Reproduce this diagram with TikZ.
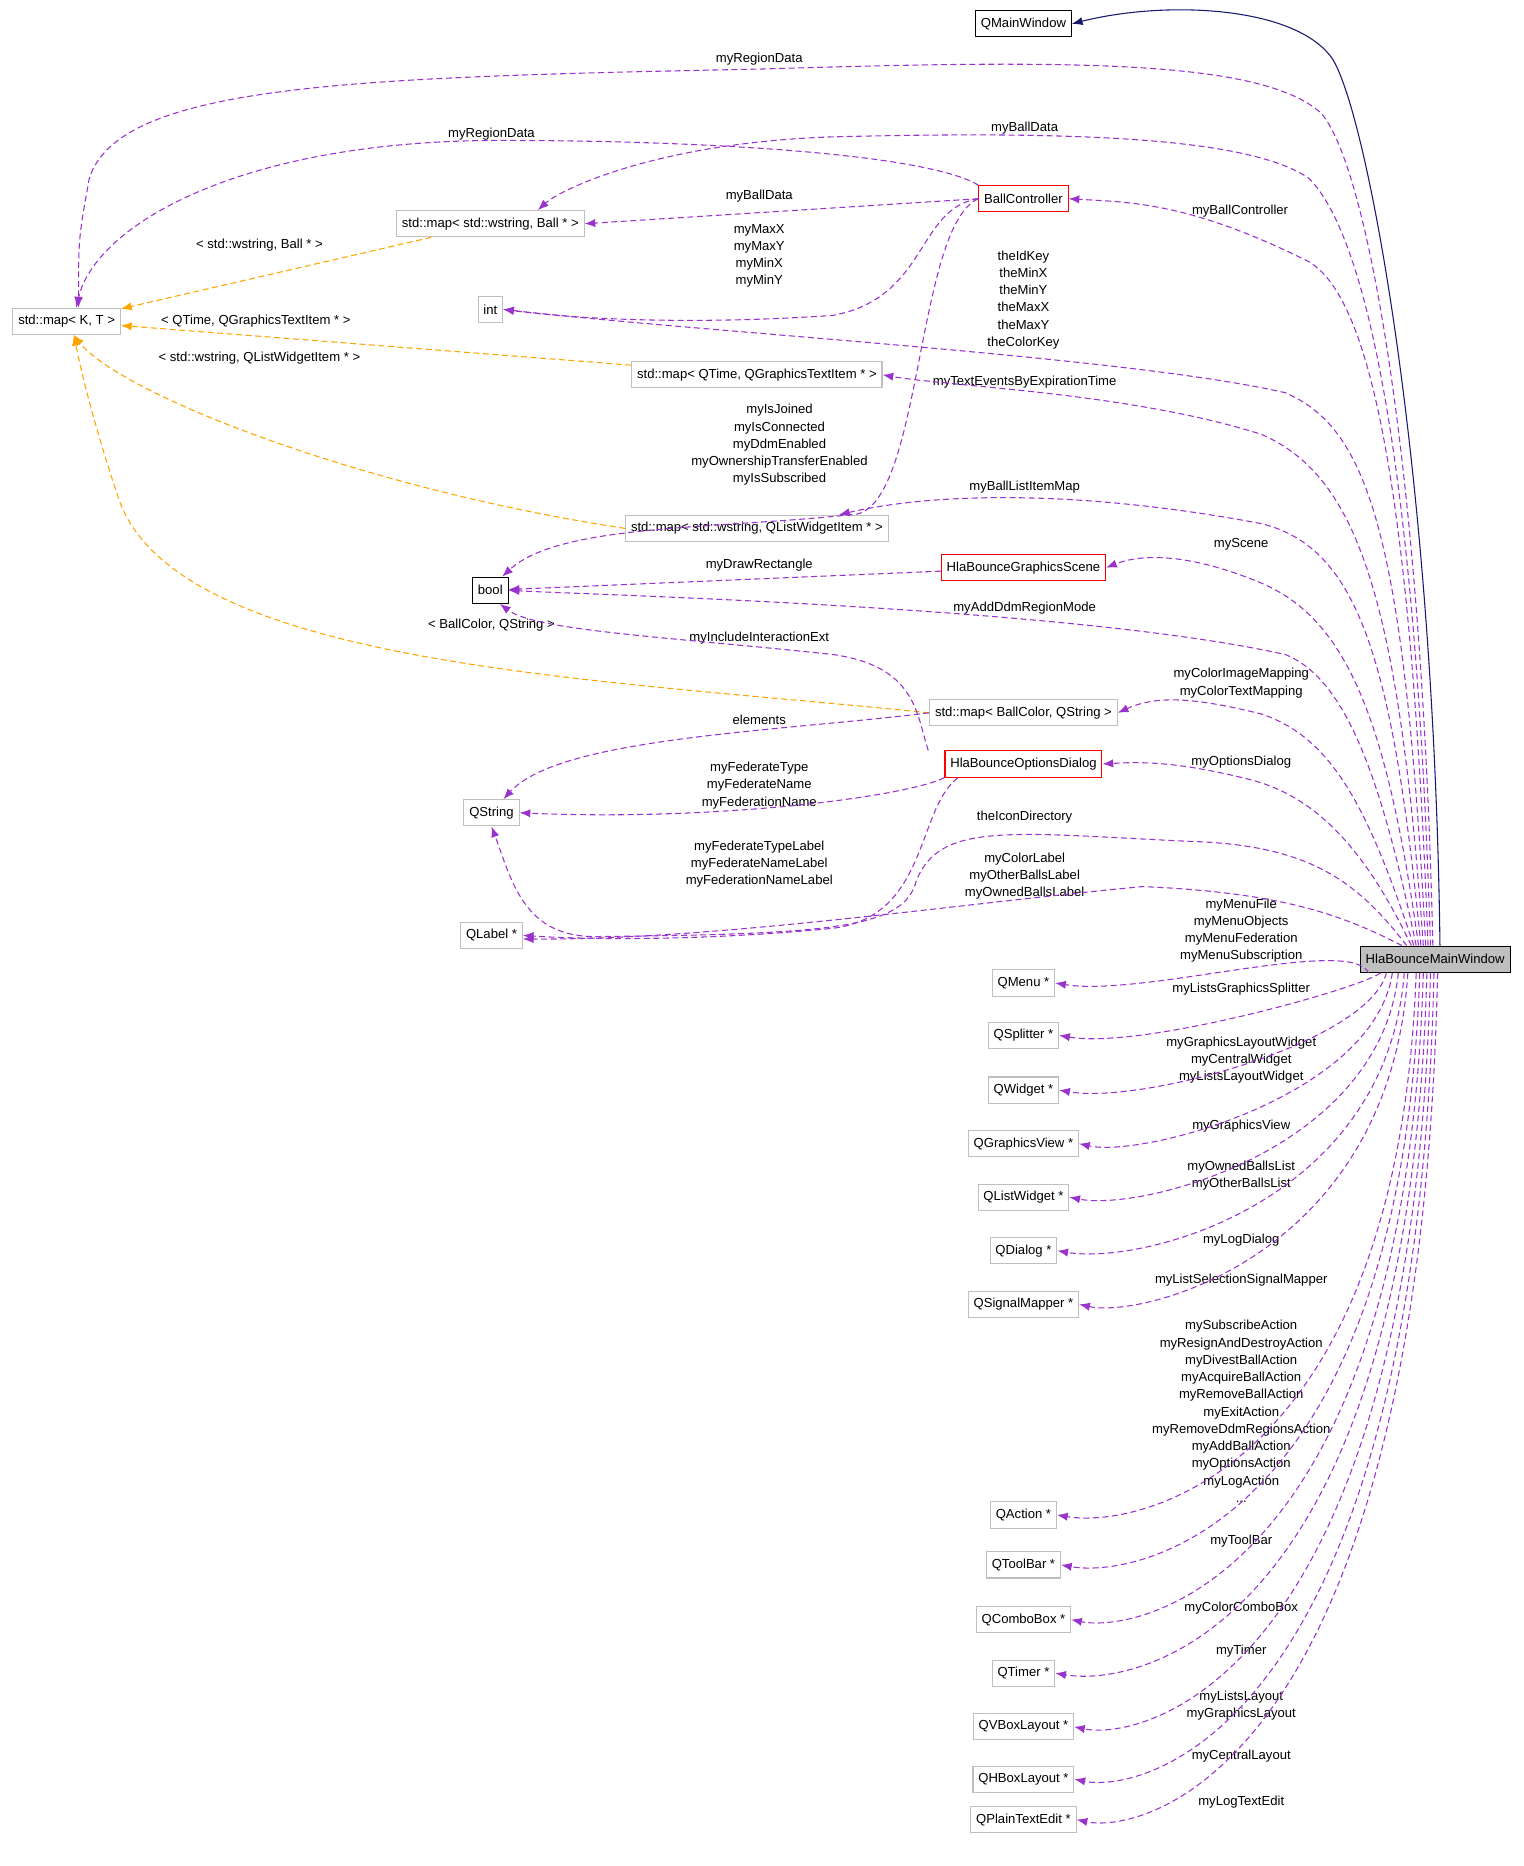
\documentclass[tikz,border=0pt]{standalone}
\usepackage{fontspec}
\setmainfont{Liberation Sans}
\usetikzlibrary{arrows.meta}
\definecolor{memberc}{HTML}{9A32CD}
\definecolor{tmplc}{HTML}{FFA500}
\definecolor{inhc}{HTML}{191970}
\definecolor{boxgray}{HTML}{BFBFBF}
\begin{document}
\begin{tikzpicture}[
    x=1pt, y=-1pt,
    every node/.style={font=\fontsize{11}{14.5}\selectfont},
    cls/.style={rectangle, draw=boxgray, line width=0.9pt, fill=white, minimum height=22pt, inner sep=4.5pt},
    doc/.style={cls, draw=black},
    red/.style={cls, draw=red},
    main/.style={cls, draw=black, fill=black!25},
    lbl/.style={align=center, inner sep=0pt},
    member/.style={-{Latex[length=9pt,width=7pt]}, dash pattern=on 5pt off 3pt, line width=0.9pt, color=memberc},
    tmpl/.style={member, color=tmplc},
    inherit/.style={-{Latex[length=9pt,width=7pt]}, line width=0.9pt, color=inhc}
]
\useasboundingbox (0,0) rectangle (1280,1568);

% classes
\node[doc] (qmw) at (860,20) {QMainWindow};
\node[red] (bc) at (860,167) {BallController};
\node[cls] (mapkt) at (56,270) {std::map< K, T >};
\node[cls] (mwb) at (412,188) {std::map< std::wstring, Ball * >};
\node[cls] (int) at (412,260) {int};
\node[cls] (mqt) at (636,315) {std::map< QTime, QGraphicsTextItem * >};
\node[cls] (mql) at (636,444) {std::map< std::wstring, QListWidgetItem * >};
\node[doc] (bool) at (412,496) {bool};
\node[red] (gs) at (860,477) {HlaBounceGraphicsScene};
\node[cls] (mbc) at (860,599) {std::map< BallColor, QString >};
\node[red] (od) at (860,642) {HlaBounceOptionsDialog};
\node[cls] (qstr) at (413,683) {QString};
\node[cls] (ql) at (413,786) {QLabel *};
\node[main] (mw) at (1206,806) {HlaBounceMainWindow};
\node[cls] (qmenu) at (860,826) {QMenu *};
\node[cls] (qsplit) at (860,870) {QSplitter *};
\node[cls] (qwid) at (860,916) {QWidget *};
\node[cls] (qgv) at (860,961) {QGraphicsView *};
\node[cls] (qlw) at (860,1006) {QListWidget *};
\node[cls] (qdlg) at (860,1051) {QDialog *};
\node[cls] (qsm) at (860,1096) {QSignalMapper *};
\node[cls] (qact) at (860,1273) {QAction *};
\node[cls] (qtb) at (860,1315) {QToolBar *};
\node[cls] (qcb) at (860,1361) {QComboBox *};
\node[cls] (qtm) at (860,1406) {QTimer *};
\node[cls] (qvb) at (860,1451) {QVBoxLayout *};
\node[cls] (qhb) at (860,1495) {QHBoxLayout *};
\node[cls] (qpt) at (860,1529) {QPlainTextEdit *};

% labels
\node[lbl] (l1) at (638,50) {myRegionData};
\node[lbl] (l2) at (413,113) {myRegionData};
\node[lbl] (l3) at (861,108) {myBallData};
\node[lbl] (l4) at (638,165) {myBallData};
\node[lbl] (l5) at (1042,177) {myBallController};
\node[lbl] (l6) at (218,206) {< std::wstring, Ball * >};
\node[lbl] (l7) at (638,215) {myMaxX\\myMaxY\\myMinX\\myMinY};
\node[lbl] (l8) at (860,252) {theIdKey\\theMinX\\theMinY\\theMaxX\\theMaxY\\theColorKey};
\node[lbl] (l9) at (215,270) {< QTime, QGraphicsTextItem * >};
\node[lbl] (l10) at (218,301) {< std::wstring, QListWidgetItem * >};
\node[lbl] (l11) at (861,321) {myTextEventsByExpirationTime};
\node[lbl] (l12) at (655,374) {myIsJoined\\myIsConnected\\myDdmEnabled\\myOwnershipTransferEnabled\\myIsSubscribed};
\node[lbl] (l13) at (861,409) {myBallListItemMap};
\node[lbl] (l14) at (1043,457) {myScene};
\node[lbl] (l15) at (638,475) {myDrawRectangle};
\node[lbl] (l16) at (861,511) {myAddDdmRegionMode};
\node[lbl] (l17) at (413,525) {< BallColor, QString >};
\node[lbl] (l18) at (638,536) {myIncludeInteractionExt};
\node[lbl] (l19) at (1043,574) {myColorImageMapping\\myColorTextMapping};
\node[lbl] (l20) at (638,605) {elements};
\node[lbl] (l21) at (1043,640) {myOptionsDialog};
\node[lbl] (l22) at (638,660) {myFederateType\\myFederateName\\myFederationName};
\node[lbl] (l23) at (861,687) {theIconDirectory};
\node[lbl] (l24) at (638,726) {myFederateTypeLabel\\myFederateNameLabel\\myFederationNameLabel};
\node[lbl] (l25) at (861,736) {myColorLabel\\myOtherBallsLabel\\myOwnedBallsLabel};
\node[lbl] (l26) at (1043,782) {myMenuFile\\myMenuObjects\\myMenuFederation\\myMenuSubscription};
\node[lbl] (l27) at (1043,831) {myListsGraphicsSplitter};
\node[lbl] (l28) at (1043,891) {myGraphicsLayoutWidget\\myCentralWidget\\myListsLayoutWidget};
\node[lbl] (l29) at (1043,946) {myGraphicsView};
\node[lbl] (l30) at (1043,988) {myOwnedBallsList\\myOtherBallsList};
\node[lbl] (l31) at (1043,1042) {myLogDialog};
\node[lbl] (l32) at (1043,1076) {myListSelectionSignalMapper};
\node[lbl] (l33) at (1043,1186) {mySubscribeAction\\myResignAndDestroyAction\\myDivestBallAction\\myAcquireBallAction\\myRemoveBallAction\\myExitAction\\myRemoveDdmRegionsAction\\myAddBallAction\\myOptionsAction\\myLogAction\\...};
\node[lbl] (l34) at (1043,1295) {myToolBar};
\node[lbl] (l35) at (1043,1351) {myColorComboBox};
\node[lbl] (l36) at (1043,1387) {myTimer};
\node[lbl] (l37) at (1043,1433) {myListsLayout\\myGraphicsLayout};
\node[lbl] (l38) at (1043,1476) {myCentralLayout};
\node[lbl] (l39) at (1043,1514) {myLogTextEdit};

% inheritance
\draw[inherit] ([xshift=4pt]mw.north) .. controls (1205,400) and (1150,100) .. (1120,50) .. controls (1090,5) and (980,0) .. (qmw.east);

% template instances
\draw[tmpl] (mwb) -- (mapkt);
\draw[tmpl] (mqt) -- (mapkt);
\draw[tmpl] (mql.west) .. controls (300,410) and (100,330) .. ([xshift=6pt]mapkt.south);
\draw[tmpl] (mbc.west) .. controls (500,570) and (150,560) .. (100,420) .. controls (80,360) and (70,320) .. ([xshift=6pt]mapkt.south);

% members of the other classes
\draw[member] (bc.north west) .. controls (780,130) and (600,118) .. (420,118) .. controls (200,118) and (80,190) .. ([xshift=8pt]mapkt.north);
\draw[member] (bc.west) -- (mwb.east);
\draw[member] (bc.west) .. controls (770,175) and (780,250) .. (700,265) .. controls (600,272) and (500,270) .. (int.east);
\draw[member] (bc.west) .. controls (770,190) and (775,420) .. (720,432) .. controls (600,445) and (470,440) .. ([xshift=10pt]bool.north);
\draw[member] (gs) -- (bool);
\draw[member] ([xshift=-80pt]od.north) .. controls (770,600) and (770,560) .. (700,550) .. controls (560,535) and (450,530) .. ([xshift=8pt]bool.south);
\draw[member] (mbc.west) .. controls (650,615) and (470,620) .. ([xshift=10pt]qstr.north);
\draw[member] (od.south west) .. controls (760,670) and (600,690) .. (qstr.east);
\draw[member] ([xshift=-55pt]od.south) .. controls (770,680) and (780,770) .. (700,780) .. controls (600,790) and (500,790) .. (ql.east);

% members of the main window
\draw[member] ([xshift=-2pt]mw.north) .. controls (1195,400) and (1150,140) .. (1110,95) .. controls (1060,50) and (900,50) .. (640,58) .. controls (300,65) and (100,70) .. (75,150) .. controls (66,200) .. ([xshift=10pt]mapkt.north);
\draw[member] ([xshift=-4pt]mw.north) .. controls (1190,400) and (1150,200) .. (1100,150) .. controls (1050,115) and (900,110) .. (700,115) .. controls (550,120) and (470,160) .. ([xshift=40pt]mwb.north);
\draw[member] ([xshift=-6pt]mw.north) .. controls (1185,400) and (1150,250) .. (1100,220) .. controls (1000,170) and (950,170) .. (bc.east);
\draw[member] ([xshift=-8pt]mw.north) .. controls (1180,450) and (1150,360) .. (1080,330) .. controls (950,300) and (600,280) .. (int.east);
\draw[member] ([xshift=-10pt]mw.north) .. controls (1175,500) and (1140,400) .. (1060,365) .. controls (950,330) and (800,325) .. (mqt.east);
\draw[member] ([xshift=-12pt]mw.north) .. controls (1170,550) and (1140,460) .. (1060,440) .. controls (900,410) and (780,415) .. ([xshift=69pt]mql.north);
\draw[member] ([xshift=-14pt]mw.north) .. controls (1165,600) and (1130,520) .. (1060,490) .. controls (1000,465) and (960,465) .. (gs.east);
\draw[member] ([xshift=-16pt]mw.north) .. controls (1160,650) and (1130,570) .. (1080,550) .. controls (900,510) and (500,500) .. (bool.east);
\draw[member] ([xshift=-18pt]mw.north) .. controls (1150,680) and (1120,620) .. (1060,600) .. controls (1000,585) and (970,585) .. (mbc.east);
\draw[member] ([xshift=-20pt]mw.north) .. controls (1150,720) and (1110,670) .. (1050,655) .. controls (990,640) and (960,640) .. (od.east);
\draw[member] ([xshift=-24pt]mw.north) .. controls (1140,740) and (1100,710) .. (1000,707) .. controls (850,700) and (790,690) .. (770,740) .. controls (760,780) and (700,785) .. (500,787) .. controls (440,787) and (430,740) .. (qstr.south);
\draw[member] ([xshift=-28pt]mw.north) .. controls (1130,770) and (1080,750) .. (960,745) .. controls (800,760) and (600,790) .. ([yshift=-3pt]ql.east);
\foreach \t/\ty/\s in {qmenu/826/1150, qsplit/870/1160, qwid/916/1165, qgv/961/1170, qlw/1006/1175, qdlg/1051/1180, qsm/1096/1183, qact/1273/1190, qtb/1315/1193, qcb/1361/1196, qtm/1406/1199, qvb/1451/1202, qhb/1495/1205, qpt/1529/1208}
  \draw[member] ([xshift={\s pt-1206pt}]mw.south) .. controls (\s-15,{\ty-40}) and (960,{\ty+12}) .. (\t.east);

\end{tikzpicture}
\end{document}
